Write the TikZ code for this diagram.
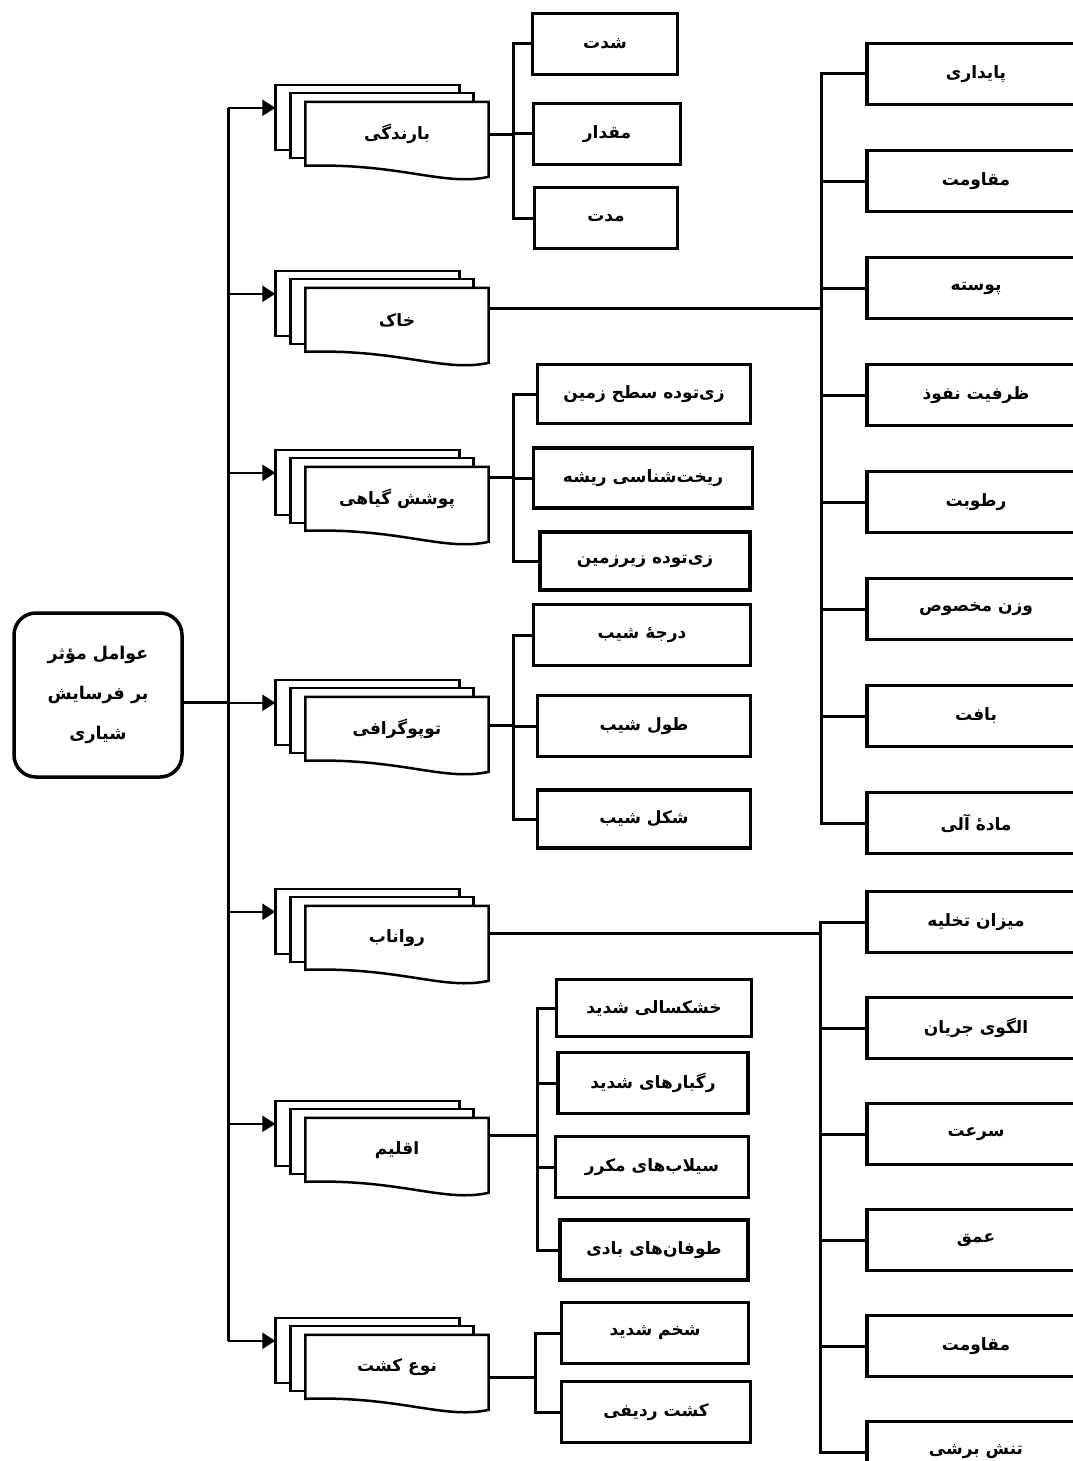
\documentclass[tikz,border=0pt]{standalone}
\usepackage{fontspec}
\newfontfamily\fafont[Script=Arabic]{DejaVu Sans}
\TeXXeTstate=1
\usetikzlibrary{positioning,calc,arrows.meta}
\pgfdeclarelayer{background}
\pgfsetlayers{background,main}
\newcommand{\fatext}[1]{\beginR#1\endR}
% stack of three sheets behind a doc node
\newcommand{\docstack}[1]{%
	\begin{pgfonlayer}{background}
		\draw[doc layer] ($(#1.north west)+(-30,-17)$) rectangle ($(#1.north east)+(-29,48)$);
		\draw[doc layer] ($(#1.north west)+(-15,-9)$) rectangle ($(#1.north east)+(-15,56)$);
		\draw[doc layer] (#1.north west) -- (#1.north east) -- ($(#1.north east)+(0,75)$)
			.. controls ($(#1.north east)+(-45,85)$) and ($(#1.north west)+(95,61)$) .. ($(#1.north west)+(0,64)$) -- cycle;
	\end{pgfonlayer}
	\coordinate (#1-in) at ($(#1.north west)+(-30,6)$);
}

\begin{document}
\begin{tikzpicture}[x=1pt,y=-1pt,
	>={Triangle[length=13pt,width=16pt]},
	root node/.style={
		rectangle,
		rounded corners=22pt,
		draw,
		line width=3.5pt,
		minimum width=168pt,
		minimum height=164pt,
		inner sep=0pt,
		align=center,
		font=\fafont\bfseries\fontsize{17.5}{40}\selectfont
	},
	doc node/.style={
		rectangle,
		minimum width=183pt,
		minimum height=64pt,
		inner sep=0pt,
		font=\fafont\bfseries\fontsize{17}{20}\selectfont
	},
	doc layer/.style={draw, fill=white, line width=2.5pt},
	leaf node/.style={
		rectangle,
		draw,
		fill=white,
		line width=3.5pt,
		minimum height=61pt,
		inner sep=0pt,
		font=\fafont\bfseries\fontsize{17}{20}\selectfont
	},
	side node/.style={leaf node, minimum width=218pt},
	conn/.style={line width=3pt},
	feed/.style={line width=2.5pt, ->},
]
	\useasboundingbox (0,0) rectangle (1073,1461);
	\clip (0,0) rectangle (1073,1461);

	\node[root node] (root) at (98,695) {\fatext{عوامل مؤثر}\\\fatext{بر فرسایش}\\\fatext{شیاری}};

	% factors
	\node[doc node] (barandegi) at (397,134) {\fatext{بارندگی}};
	\node[doc node] (khak) at (397,320) {\fatext{خاک}};
	\node[doc node] (poshesh) at (397,499) {\fatext{پوشش گیاهی}};
	\node[doc node] (topo) at (397,729) {\fatext{توپوگرافی}};
	\node[doc node] (ravanab) at (397,938) {\fatext{رواناب}};
	\node[doc node] (eqlim) at (397,1150) {\fatext{اقلیم}};
	\node[doc node] (kesht) at (397,1367) {\fatext{نوع کشت}};
	\docstack{barandegi}
	\docstack{khak}
	\docstack{poshesh}
	\docstack{topo}
	\docstack{ravanab}
	\docstack{eqlim}
	\docstack{kesht}

	% rainfall
	\node[leaf node, minimum width=145pt] (shedat) at (605,44) {\fatext{شدت}};
	\node[leaf node, minimum width=147pt] (meqdar) at (607,134) {\fatext{مقدار}};
	\node[leaf node, minimum width=143pt] (modat) at (606,218) {\fatext{مدت}};

	% vegetation
	\node[leaf node, minimum width=213pt, minimum height=59pt] (sath) at (644,394) {\fatext{زی^^^^200cتوده سطح زمین}};
	\node[leaf node, minimum width=219pt, minimum height=60pt] (risheh) at (643,478) {\fatext{ریخت^^^^200cشناسی ریشه}};
	\node[leaf node, minimum width=210pt, minimum height=58pt] (zirzamin) at (645,561) {\fatext{زی^^^^200cتوده زیرزمین}};

	% topography
	\node[leaf node, minimum width=217pt] (daraje) at (642,635) {\fatext{درجه^^^^0654 شیب}};
	\node[leaf node, minimum width=213pt] (tul) at (644,726) {\fatext{طول شیب}};
	\node[leaf node, minimum width=213pt, minimum height=58pt] (shekl) at (644,819) {\fatext{شکل شیب}};

	% climate
	\node[leaf node, minimum width=195pt, minimum height=57pt] (khoshk) at (654,1008) {\fatext{خشکسالی شدید}};
	\node[leaf node, minimum width=190pt] (ragbar) at (653,1083) {\fatext{رگبارهای شدید}};
	\node[leaf node, minimum width=193pt] (seylab) at (652,1167) {\fatext{سیلاب^^^^200cهای مکرر}};
	\node[leaf node, minimum width=188pt, minimum height=60pt] (tufan) at (654,1250) {\fatext{طوفان^^^^200cهای بادی}};

	% tillage
	\node[leaf node, minimum width=187pt] (shokhm) at (655,1333) {\fatext{شخم شدید}};
	\node[leaf node, minimum width=189pt] (radifi) at (656,1412) {\fatext{کشت ردیفی}};

	% soil
	\node[side node] (paydari) at (976,74) {\fatext{پایداری}};
	\node[side node, below=42.5pt of paydari] (moqavemat) {\fatext{مقاومت}};
	\node[side node, below=42.5pt of moqavemat] (pousteh) {\fatext{پوسته}};
	\node[side node, below=42.5pt of pousteh] (nofuz) {\fatext{ظرفیت نفوذ}};
	\node[side node, below=42.5pt of nofuz] (rotubat) {\fatext{رطوبت}};
	\node[side node, below=42.5pt of rotubat] (vazn) {\fatext{وزن مخصوص}};
	\node[side node, below=42.5pt of vazn] (baft) {\fatext{بافت}};
	\node[side node, below=42.5pt of baft] (madde) {\fatext{ماده^^^^0654 آلی}};

	% runoff
	\node[side node] (takhliyeh) at (976,922) {\fatext{میزان تخلیه}};
	\node[side node, below=41.5pt of takhliyeh] (olgu) {\fatext{الگوی جریان}};
	\node[side node, below=41.5pt of olgu] (sorat) {\fatext{سرعت}};
	\node[side node, below=41.5pt of sorat] (omq) {\fatext{عمق}};
	\node[side node, below=41.5pt of omq] (moqavemat2) {\fatext{مقاومت}};
	\node[side node, below=41.5pt of moqavemat2] (tanesh) {\fatext{تنش برشی}};

	% trunk and feeds
	\coordinate (trunk) at (228,0);
	\draw[conn] (trunk |- barandegi-in) -- (trunk |- kesht-in);
	\draw[conn] (root.east |- topo-in) -- (trunk |- topo-in);
	\path[feed]
	(trunk |- barandegi-in) edge (barandegi-in)
	(trunk |- khak-in) edge (khak-in)
	(trunk |- poshesh-in) edge (poshesh-in)
	(trunk |- topo-in) edge (topo-in)
	(trunk |- ravanab-in) edge (ravanab-in)
	(trunk |- eqlim-in) edge (eqlim-in)
	(trunk |- kesht-in) edge (kesht-in);

	% brackets
	\coordinate (bar-j) at (513,135);
	\draw[conn] (barandegi.east |- bar-j) -- (bar-j);
	\draw[conn] (shedat.west) -| (bar-j) |- (modat.west);
	\draw[conn] (bar-j |- meqdar.west) -- (meqdar.west);

	\coordinate (khak-j) at (821,308);
	\draw[conn] (khak.east |- khak-j) -- (khak-j);
	\draw[conn] (paydari.west) -| (khak-j) |- (madde.west);
	\path[draw,conn]
	(khak-j |- moqavemat.west) -- (moqavemat.west)
	(khak-j |- pousteh.west) -- (pousteh.west)
	(khak-j |- nofuz.west) -- (nofuz.west)
	(khak-j |- rotubat.west) -- (rotubat.west)
	(khak-j |- vazn.west) -- (vazn.west)
	(khak-j |- baft.west) -- (baft.west);

	\coordinate (poshesh-j) at (513,477);
	\draw[conn] (poshesh.east |- poshesh-j) -- (poshesh-j);
	\draw[conn] (sath.west) -| (poshesh-j) |- (zirzamin.west);
	\draw[conn] (poshesh-j |- risheh.west) -- (risheh.west);

	\coordinate (topo-j) at (513,725);
	\draw[conn] (topo.east |- topo-j) -- (topo-j);
	\draw[conn] (daraje.west) -| (topo-j) |- (shekl.west);
	\draw[conn] (topo-j |- tul.west) -- (tul.west);

	\coordinate (ravanab-j) at (820,933);
	\draw[conn] (ravanab.east |- ravanab-j) -- (ravanab-j);
	\draw[conn] (takhliyeh.west) -| (ravanab-j) |- (tanesh.west);
	\path[draw,conn]
	(ravanab-j |- olgu.west) -- (olgu.west)
	(ravanab-j |- sorat.west) -- (sorat.west)
	(ravanab-j |- omq.west) -- (omq.west)
	(ravanab-j |- moqavemat2.west) -- (moqavemat2.west);

	\coordinate (eqlim-j) at (537,1135);
	\draw[conn] (eqlim.east |- eqlim-j) -- (eqlim-j);
	\draw[conn] (khoshk.west) -| (eqlim-j) |- (tufan.west);
	\path[draw,conn]
	(eqlim-j |- ragbar.west) -- (ragbar.west)
	(eqlim-j |- seylab.west) -- (seylab.west);

	\coordinate (kesht-j) at (535,1377);
	\draw[conn] (kesht.east |- kesht-j) -- (kesht-j);
	\draw[conn] (shokhm.west) -| (kesht-j) |- (radifi.west);
\end{tikzpicture}
\end{document}
